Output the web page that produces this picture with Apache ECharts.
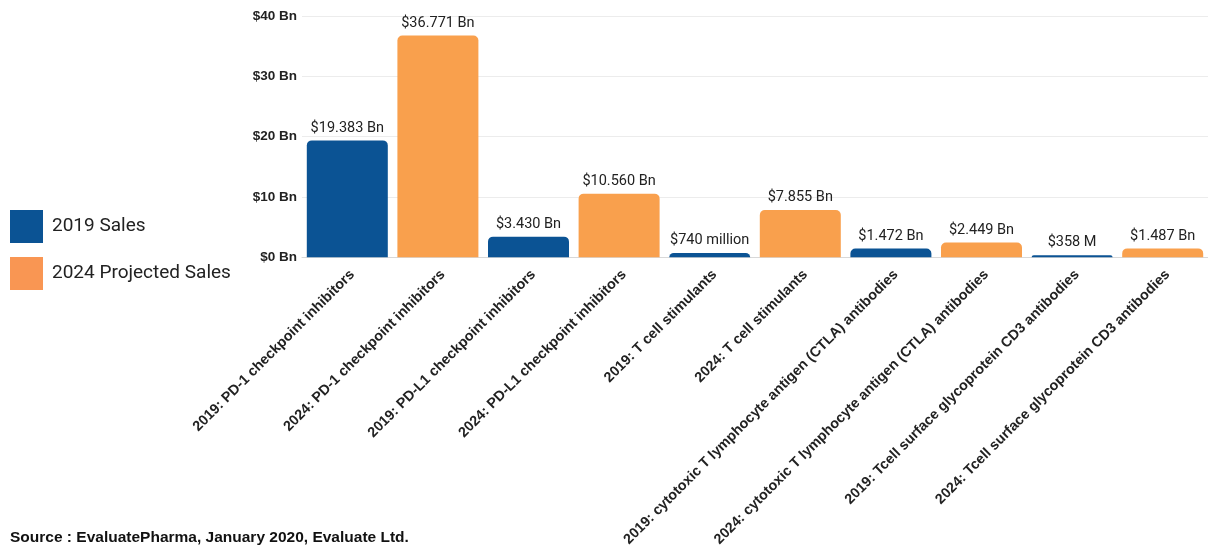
<!DOCTYPE html>
<html>
<head>
<meta charset="utf-8">
<script src="https://cdn.jsdelivr.net/npm/echarts@6/dist/echarts.min.js"></script>
<style>
  html, body { margin: 0; padding: 0; background: #fff; }
  #chart { width: 1208px; height: 549px; }
</style>
</head>
<body>
<div id="chart"></div>
<script>
// Immuno-oncology drug class sales, 2019 actual vs 2024 projected (US$ billions)
const categories = [
  '2019: PD-1 checkpoint inhibitors',
  '2024: PD-1 checkpoint inhibitors',
  '2019: PD-L1 checkpoint inhibitors',
  '2024: PD-L1 checkpoint inhibitors',
  '2019: T cell stimulants',
  '2024: T cell stimulants',
  '2019: cytotoxic T lymphocyte antigen (CTLA) antibodies',
  '2024: cytotoxic T lymphocyte antigen (CTLA) antibodies',
  '2019: Tcell surface glycoprotein CD3 antibodies',
  '2024: Tcell surface glycoprotein CD3 antibodies'
];
const sales2019 = [19.383, '-', 3.430, '-', 0.740, '-', 1.472, '-', 0.358, '-'];
const sales2024 = ['-', 36.771, '-', 10.560, '-', 7.855, '-', 2.449, '-', 1.487];
const valueLabels = [
  '$19.383 Bn', '$36.771 Bn', '$3.430 Bn', '$10.560 Bn', '$740 million',
  '$7.855 Bn', '$1.472 Bn', '$2.449 Bn', '$358 M', '$1.487 Bn'
];
const yTicks = ['$0 Bn', '$10 Bn', '$20 Bn', '$30 Bn', '$40 Bn'];

const BLUE = '#0b5394';
const ORANGE = '#f9a04d';

const chart = echarts.init(document.getElementById('chart'), null, { renderer: 'canvas' });

const labelOpt = {
  show: true,
  position: 'top',
  distance: 5,
  color: '#222',
  fontFamily: 'Roboto, "Liberation Sans", sans-serif',
  fontSize: 14.5,
  formatter: p => valueLabels[p.dataIndex]
};

chart.setOption({
  animation: false,
  backgroundColor: '#fff',
  grid: { left: 302, top: 16, width: 912, height: 243, containLabel: false },
  legend: {
    orient: 'vertical',
    left: 10,
    top: 210,
    padding: 0,
    itemWidth: 33,
    itemHeight: 33,
    itemGap: 14,
    icon: 'rect',
    textStyle: { fontSize: 19, color: '#222', fontFamily: 'Roboto, "Liberation Sans", sans-serif', padding: [0, 0, 0, 4] },
    data: [
      { name: '2019 Sales', itemStyle: { color: BLUE } },
      { name: '2024 Projected Sales', itemStyle: { color: '#f99653' } }
    ]
  },
  xAxis: {
    type: 'category',
    data: categories,
    axisLine: { show: true, lineStyle: { color: '#d8d8d8' } },
    axisTick: { show: false },
    axisLabel: {
      interval: 0,
      rotate: 45,
      margin: 10,
      verticalAlign: 'top',
      color: '#222',
      fontWeight: 'bold',
      fontSize: 14.3,
      fontFamily: '"Liberation Sans", Arial, sans-serif'
    }
  },
  yAxis: {
    type: 'value',
    min: 0,
    max: 40,
    interval: 10,
    axisLine: { show: false },
    axisTick: { show: false },
    splitLine: { lineStyle: { color: '#ececec' } },
    axisLabel: {
      margin: 5,
      color: '#222',
      fontWeight: 'bold',
      fontSize: 13.5,
      fontFamily: '"Liberation Sans", Arial, sans-serif',
      formatter: v => yTicks[v / 10]
    }
  },
  graphic: [{
    type: 'text',
    left: 10,
    top: 530,
    style: {
      text: 'Source : EvaluatePharma, January 2020, Evaluate Ltd.',
      fill: '#111',
      font: 'bold 15.5px "Liberation Sans", Arial, sans-serif'
    }
  }],
  series: [
    {
      name: '2019 Sales',
      type: 'bar',
      stack: 'sales',
      barWidth: 81,
      data: sales2019,
      itemStyle: { color: BLUE, borderRadius: [5, 5, 0, 0] },
      label: labelOpt
    },
    {
      name: '2024 Projected Sales',
      type: 'bar',
      stack: 'sales',
      barWidth: 81,
      data: sales2024,
      itemStyle: { color: ORANGE, borderRadius: [5, 5, 0, 0] },
      label: labelOpt
    }
  ]
});
</script>
</body>
</html>
